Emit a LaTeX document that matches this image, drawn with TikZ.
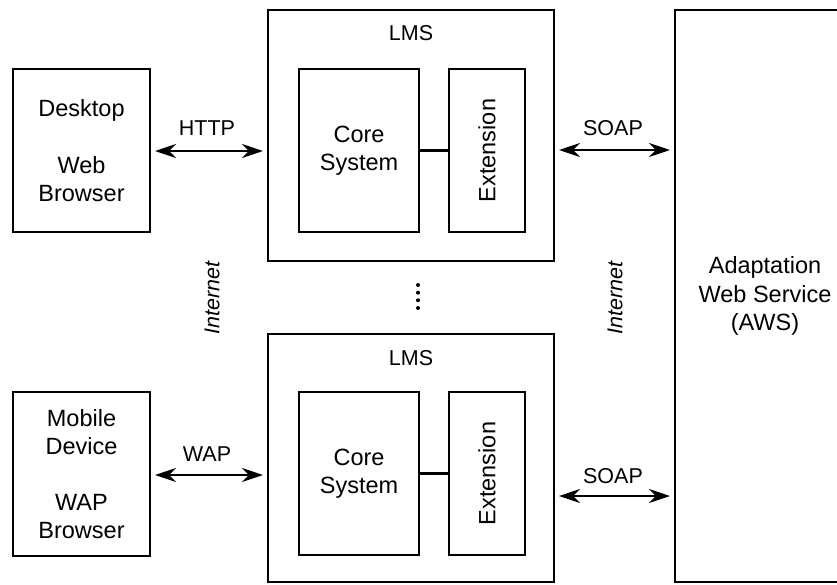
\documentclass[tikz,border=0pt]{standalone}
\usepackage{fontspec}
\setmainfont{Liberation Sans}
\usetikzlibrary{arrows.meta,calc}
\begin{document}
\begin{tikzpicture}[x=1pt,y=-1pt,
  box/.style={draw=black, line width=2.5pt, inner sep=0pt, align=center,
    font=\fontsize{23.5}{28.5}\selectfont},
  lbl/.style={inner sep=0pt, font=\fontsize{21.5}{24}\selectfont},
  conn/.style={line width=2.8pt, {Stealth[length=21pt,width=14pt]}-{Stealth[length=21pt,width=14pt]}, shorten <=5pt, shorten >=5pt},
  link/.style={line width=2.5pt}]
\useasboundingbox (0,0) rectangle (837,584);
\clip (0,0) rectangle (837,584);
% clients
\node[box, minimum width=137pt, minimum height=163pt] (desk) at (81.5,150.5) {Desktop\\[28.5pt]Web\\Browser};
\node[box, minimum width=137pt, minimum height=164pt] (mob) at (81.5,474) {Mobile\\Device\\[27pt]WAP\\Browser};
% LMS top
\node[box, minimum width=286pt, minimum height=251pt] (lms1) at (411,135.5) {};
\node[lbl] (lms1t) at (411,33) {LMS};
\node[box, minimum width=120pt, minimum height=163pt] (core1) at (359,150.5) {Core\\System};
\node[box, minimum width=76pt, minimum height=163pt] (ext1) at (487,150.5) {\rotatebox{90}{Extension}};
\draw[link] (core1.east) -- (ext1.west);
% LMS bottom
\node[box, minimum width=286pt, minimum height=248pt] (lms2) at (411,458) {};
\node[lbl] (lms2t) at (411,358) {LMS};
\node[box, minimum width=120pt, minimum height=163pt] (core2) at (359,473.5) {Core\\System};
\node[box, minimum width=76pt, minimum height=163pt] (ext2) at (487,473.5) {\rotatebox{90}{Extension}};
\draw[link] (core2.east) -- (ext2.west);
% AWS
\node[box, minimum width=180pt, minimum height=572pt] (aws) at (765,296) {Adaptation\\Web Service\\(AWS)};
% connectors
\coordinate (h1) at (150,151);
\coordinate (h2) at (268,151);
\draw[conn] (h1) -- (h2);
\node[lbl] (http) at (207,128) {HTTP};
\coordinate (w1) at (150,475);
\coordinate (w2) at (268,475);
\draw[conn] (w1) -- (w2);
\node[lbl] (wap) at (207,454) {WAP};
\coordinate (s1) at (554,150);
\coordinate (s2) at (675,150);
\draw[conn] (s1) -- (s2);
\node[lbl] (soap1) at (613,128) {SOAP};
\coordinate (t1) at (554,496);
\coordinate (t2) at (675,496);
\draw[conn] (t1) -- (t2);
\node[lbl] (soap2) at (613,476) {SOAP};
% internet labels
\node[lbl, rotate=90, font=\fontsize{21.5}{24}\selectfont\itshape] (inet1) at (212,298) {Internet};
\node[lbl, rotate=90, font=\fontsize{21.5}{24}\selectfont\itshape] (inet2) at (615,298) {Internet};
% dots
\foreach \yy in {285,292.7,300.3,308} \fill (418,\yy) circle (2pt);
\end{tikzpicture}
\end{document}
